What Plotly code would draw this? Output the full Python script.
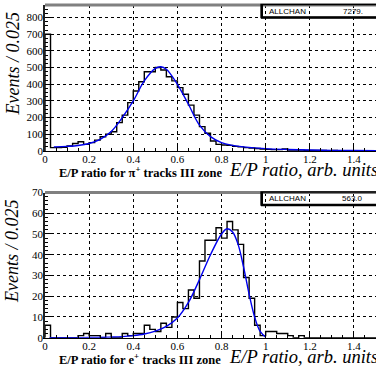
import plotly.graph_objects as go

# ---------------- data ----------------
BIN_W = 0.025
N_BINS = 60

pi_counts = [700, 20, 20, 22, 30, 45, 55, 40, 50, 65,
             85, 100, 115, 170, 215, 290, 360, 415, 475, 475,
             500, 485, 445, 420, 380, 340, 275, 215, 146, 106,
             60, 40, 36, 34, 28, 25, 20, 18, 15, 12,
             10, 8, 8, 12, 6, 5, 5, 4, 4, 3,
             3, 2, 3, 2, 2, 2, 1, 2, 1, 1]

e_counts = [6, 0, 0, 0, 0, 0, 1, 2, 1, 1,
            0, 2, 0, 0, 2, 1, 2, 2, 6, 4,
            3, 7, 5, 10, 17, 14, 23, 19, 37, 47,
            47, 53, 48, 56, 52, 45, 29, 19, 6, 1,
            3, 3, 2, 2, 1, 0, 1, 0, 0, 0,
            0, 0, 0, 0, 0, 0, 0, 0, 0, 0]

pi_fit_x = [0.04, 0.1, 0.15, 0.2, 0.25, 0.3, 0.35, 0.4, 0.45, 0.5, 0.525, 0.55,
            0.6, 0.65, 0.7, 0.75, 0.8, 0.85, 0.9, 1.0, 1.1, 1.2, 1.3, 1.4, 1.5]
pi_fit_y = [25, 28, 33, 45, 70, 117, 200, 300, 420, 495, 505, 490,
            400, 280, 155, 86, 50, 34, 25, 14, 9, 6, 4, 3, 2]

e_fit_x = [0.02, 0.1, 0.2, 0.3, 0.35, 0.4, 0.45, 0.5, 0.55, 0.6, 0.65, 0.7, 0.75,
           0.8, 0.825, 0.85, 0.875, 0.9, 0.925, 0.95, 0.975, 1.0]
e_fit_y = [0, 0, 0.1, 0.3, 0.5, 1, 1.8, 3.2, 5.5, 9.5, 17, 28, 40,
           50, 52.5, 51, 45, 34, 21, 10, 3, 0.3]

pi_entries = "7279."
e_entries = "563.0"

x_ticks = [0, 0.2, 0.4, 0.6, 0.8, 1.0, 1.2, 1.4]
x_tick_text = ["0", "0.2", "0.4", "0.6", "0.8", "1", "1.2", "1.4"]

# ---------------- geometry ----------------
W, H = 376, 367
ML = 45
PW = W - ML


def py(p):  # pixel y -> paper y
    return (H - p) / H


def px(p):  # pixel x -> paper x
    return (p - ML) / PW


def steps(counts):
    xs = [0.0]
    ys = [0]
    for i, c in enumerate(counts):
        xs.append(i * BIN_W)
        ys.append(c)
    xs.append(N_BINS * BIN_W)
    ys.append(counts[-1])
    return xs, ys


fig = go.Figure()

for counts, fx, fy, ax in [(pi_counts, pi_fit_x, pi_fit_y, ""),
                           (e_counts, e_fit_x, e_fit_y, "2")]:
    hx, hy = steps(counts)
    fig.add_trace(go.Scatter(x=hx, y=hy, mode="lines", line=dict(color="black", width=1.4, shape="hv"),
                             xaxis="x" + ax, yaxis="y" + ax, showlegend=False, hoverinfo="skip"))
    fig.add_trace(go.Scatter(x=fx, y=fy, mode="lines", line=dict(color="#0000ee", width=1.4, shape="spline"),
                             xaxis="x" + ax, yaxis="y" + ax, showlegend=False, hoverinfo="skip"))

tickfont = dict(family="Liberation Serif, Times New Roman, serif", size=11, color="black")

common_x = dict(range=[0, 1.5], tickvals=x_ticks, ticktext=x_tick_text, ticks="inside", ticklen=6,
                tickcolor="black", showline=True, linecolor="black", linewidth=1, zeroline=False,
                showgrid=True, gridcolor="black", griddash="dot", gridwidth=1, tickfont=tickfont,
                ticklabelstandoff=-2,
                minor=dict(ticks="inside", ticklen=3, dtick=0.05, tick0=0, tickcolor="black", showgrid=False),
                automargin=False, fixedrange=True)
common_y = dict(ticks="inside", ticklen=6, tickcolor="black", showline=True, linecolor="#222",
                linewidth=1.5, zeroline=False, showgrid=True, gridcolor="black", griddash="dot",
                gridwidth=1, tickfont=tickfont, automargin=False, fixedrange=True, ticklabelstandoff=-2)

top_dom = [py(151), py(5)]
bot_dom = [py(337.7), py(192.5)]

fig.update_layout(
    width=W, height=H, margin=dict(l=ML, r=0, t=0, b=0),
    paper_bgcolor="white", plot_bgcolor="white",
    xaxis=dict(domain=[0, 1], anchor="y", **common_x),
    yaxis=dict(domain=top_dom, anchor="x", range=[0, 875], dtick=100,
               minor=dict(ticks="inside", ticklen=3, dtick=25, tickcolor="black", showgrid=False), **common_y),
    xaxis2=dict(domain=[0, 1], anchor="y2", **common_x),
    yaxis2=dict(domain=bot_dom, anchor="x2", range=[0, 70], dtick=10,
                minor=dict(ticks="inside", ticklen=3, dtick=2, tickcolor="black", showgrid=False), **common_y),
)

shapes = []
annotations = []
serif = "Liberation Serif, Times New Roman, serif"
sans = "Liberation Sans, Arial, sans-serif"

for (dom, entries, part) in [(top_dom, pi_entries, "&#960;<sup>+</sup>"),
                             (bot_dom, e_entries, "e<sup>+</sup>")]:
    top_px = H - dom[1] * H
    bot_px = H - dom[0] * H
    # gray top frame
    shapes.append(dict(type="line", xref="paper", yref="paper", x0=0, x1=1, y0=dom[1], y1=dom[1],
                       line=dict(color="#808080", width=3)))
    # stats box
    b0, b1 = top_px - 0.5, top_px + 12.5
    shapes.append(dict(type="rect", xref="paper", yref="paper", x0=px(261), x1=px(380), y0=py(b1), y1=py(b0),
                       line=dict(color="black", width=1.3)))
    shapes.append(dict(type="line", xref="paper", yref="paper", x0=px(261), x1=px(380), y0=py(b1), y1=py(b1),
                       line=dict(color="black", width=2.5)))
    shapes.append(dict(type="line", xref="paper", yref="paper", x0=px(262), x1=px(262), y0=py(b1), y1=py(b0),
                       line=dict(color="black", width=2)))
    annotations.append(dict(xref="paper", yref="paper", x=px(267), y=py(top_px + 6), text="ALLCHAN",
                            showarrow=False, xanchor="left", yanchor="middle",
                            font=dict(family=sans, size=8, color="black")))
    annotations.append(dict(xref="paper", yref="paper", x=px(365), y=py(top_px + 6), text=entries,
                            showarrow=False, xanchor="right", yanchor="middle",
                            font=dict(family=sans, size=8, color="black")))
    # y title
    annotations.append(dict(xref="paper", yref="paper", x=px(12), y=py(top_px + 6), text="<i>Events / 0.025</i>",
                            textangle=-90, showarrow=False, xanchor="center", yanchor="top",
                            font=dict(family=serif, size=18, color="black")))
    # x titles
    annotations.append(dict(xref="paper", yref="paper", x=px(57), y=py(bot_px + 21),
                            text="<b>E/P ratio for " + part + " tracks III zone</b>",
                            showarrow=False, xanchor="left", yanchor="middle",
                            font=dict(family=serif, size=12.5, color="black")))
    annotations.append(dict(xref="paper", yref="paper", x=px(227), y=py(bot_px + 19),
                            text="<i>E/P ratio, arb. units</i>",
                            showarrow=False, xanchor="left", yanchor="middle",
                            font=dict(family=serif, size=18.5, color="black")))

fig.update_layout(shapes=shapes, annotations=annotations)
fig.write_html("out.html", config={"displayModeBar": False},
               post_script="document.body.style.margin='0';document.body.style.overflow='hidden';")
